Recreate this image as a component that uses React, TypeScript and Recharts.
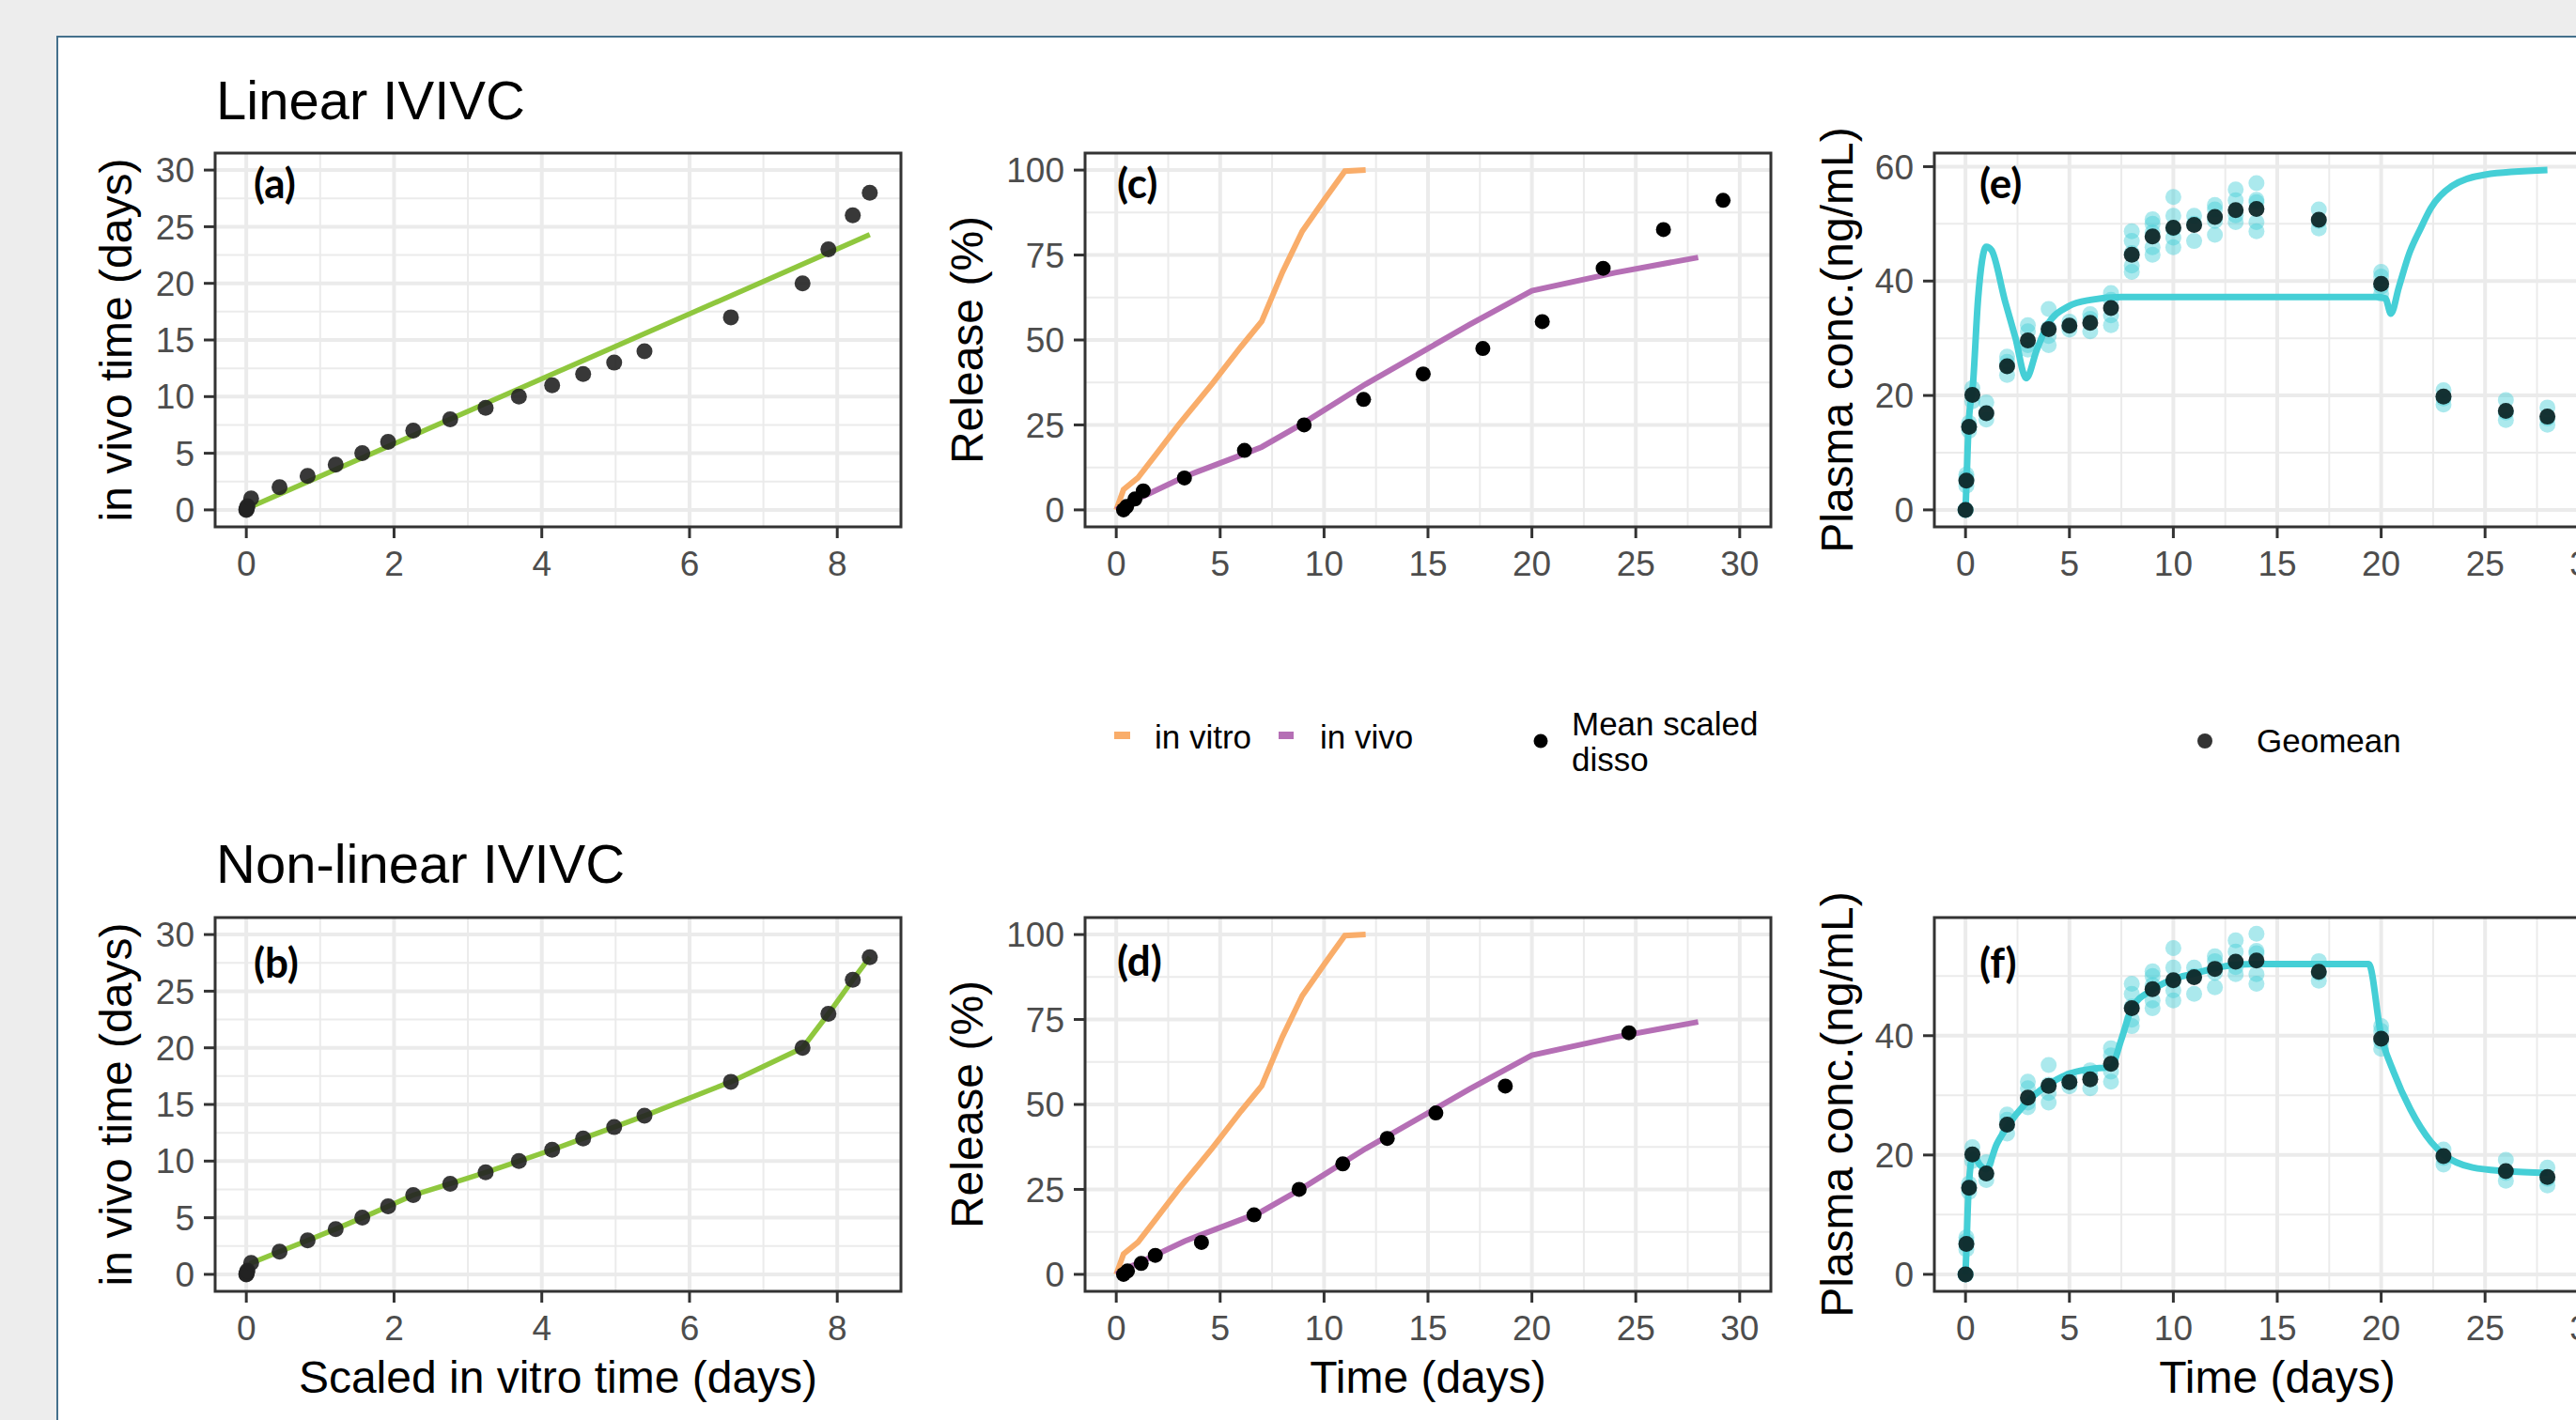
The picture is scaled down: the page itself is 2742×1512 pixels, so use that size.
import React from 'react';
import {
  ComposedChart, Line, Scatter, XAxis, YAxis, CartesianGrid, ReferenceArea,
} from 'recharts';

// ---- data ----

// in vivo sampling times (days) - y of panels a/b, x of panels e/f
const pkTimes = [0, 0.04, 0.17, 0.33, 1, 2, 3, 4, 5, 6, 7, 8, 9, 10, 11, 12, 13, 14, 17, 20, 23, 26, 28];
// scaled in vitro time matched to each in vivo time (panels a/b)
const scaledInVitro = [0, 0.002, 0.008, 0.015, 0.065, 0.45, 0.83, 1.21, 1.57, 1.92, 2.26, 2.76, 3.24, 3.69,
  4.14, 4.56, 4.98, 5.39, 6.56, 7.53, 7.88, 8.21, 8.44];
// linear IVIVC fit (a): end points
const linearFitX = [0, 8.44];
const linearFitY = [0.1, 24.3];

// in vitro release (orange)
const invitroTime = [0, 0.35, 1.05, 2.0, 3.0, 4.6, 6.0, 7.0, 8.0, 8.95, 10.0, 11.0, 12.0];
const invitroRelease = [0, 6.0, 9.5, 17.0, 25.0, 37.0, 48.0, 55.5, 70.0, 82.0, 91.2, 99.7, 100];
// in vivo release (purple)
const invivoTime = [0, 0.5, 1.3, 3.3, 6.3, 7.0, 9.0, 12.0, 15.0, 17.0, 20.0, 24.0, 28.0];
const invivoRelease = [0, 1.8, 4.0, 9.8, 16.8, 18.5, 25.5, 37.0, 47.5, 54.5, 64.5, 69.8, 74.3];
// mean scaled disso dots
const dissoRelease = [0, 1.0, 3.2, 5.6, 9.4, 17.5, 25.0, 32.5, 40.0, 47.5, 55.4, 71.1, 82.5, 91.1];
const dissoTimeLinear = [0.35, 0.5, 0.9, 1.3, 3.28, 6.17, 9.04, 11.9, 14.77, 17.64, 20.5, 23.43, 26.33, 29.2];
const dissoTimeNonlinear = [0.35, 0.54, 1.2, 1.88, 4.1, 6.63, 8.8, 10.9, 13.04, 15.38, 18.72, 24.67];

// plasma concentrations (ng/mL)
const geomeanConc = [0, 5.1, 14.5, 20.1, 16.9, 25.1, 29.6, 31.6, 32.2, 32.7, 35.3, 44.6, 47.8, 49.3, 49.8,
  51.2, 52.4, 52.6, 50.7, 39.5, 19.8, 17.3, 16.3];
const individualConc = [
  [0, 0, 0], [4.2, 5.0, 5.6, 6.2], [13.8, 14.5, 15.2], [19.0, 20.1, 21.3], [15.8, 16.9, 18.8],
  [23.6, 25.1, 25.9, 26.8], [28.0, 28.8, 31.2, 32.3], [28.8, 30.4, 31.8, 35.1], [31.5, 32.2, 32.9],
  [31.2, 33.4, 34.2], [32.3, 34.0, 36.7, 37.9], [41.6, 42.7, 44.9, 47.0, 48.7], [44.6, 45.9, 48.5, 50.0, 50.8],
  [45.9, 47.6, 49.2, 51.4, 54.7], [47.0, 50.0, 51.4], [48.1, 50.5, 52.5, 53.3], [50.3, 51.5, 54.1, 56.0],
  [48.7, 50.3, 53.8, 54.2, 57.1], [49.2, 50.5, 52.5], [37.8, 39.0, 40.8, 41.6], [18.4, 19.5, 20.9],
  [15.7, 17.0, 19.2], [14.9, 16.0, 17.9],
];
// predicted profiles
const predLinTime = [0, 0.05, 0.15, 0.36, 0.6, 1.0, 1.25, 1.9, 2.4, 2.92, 3.43, 3.94, 4.97, 6.0, 7.5, 9.6,
  19.8, 20.2, 20.47, 20.85, 21.36, 21.9, 22.4, 23.4, 25.0, 28.0];
const predLinConc = [0, 5, 15, 22, 36.7, 46, 45.4, 36.5, 30.1, 23, 28, 32.3, 35.6, 36.7, 37.2, 37.2,
  37.2, 37.0, 34.3, 38.9, 44.9, 49.2, 52.8, 56.6, 58.6, 59.4];
const predNonTime = [0, 0.05, 0.15, 0.36, 0.7, 1.0, 1.5, 2.0, 2.9, 3.94, 4.97, 6.0, 7.0, 7.5, 8.0, 9.0, 10.0,
  11.0, 12.0, 13.0, 14.0, 19.4, 20.0, 20.6, 21.4, 22.4, 23.0, 24.4, 26.0, 28.0];
const predNonConc = [0, 5, 14.5, 20, 18.3, 17.6, 21.8, 24.7, 28.7, 31.7, 33.6, 34.4, 34.8, 39.4, 44.6, 47.7,
  49.5, 50.4, 51.3, 51.9, 52.0, 52.0, 40.0, 33.9, 27.7, 22.2, 20.1, 17.9, 17.3, 17.0];

// axis ticks
const ivivcXTicks = [0, 2, 4, 6, 8];
const ivivcXMinor = [1, 3, 5, 7];
const ivivcYTicks = [0, 5, 10, 15, 20, 25, 30];
const ivivcYMinor = [2.5, 7.5, 12.5, 17.5, 22.5, 27.5];
const timeTicks = [0, 5, 10, 15, 20, 25, 30];
const timeMinor = [2.5, 7.5, 12.5, 17.5, 22.5, 27.5];
const releaseTicks = [0, 25, 50, 75, 100];
const releaseMinor = [12.5, 37.5, 62.5, 87.5];
const concTicksE = [0, 20, 40, 60];
const concTicksF = [0, 20, 40];
const concMinor = [10, 30, 50];

const zip = (xs: number[], ys: number[]) => xs.map((x, i) => ({ x, y: ys[i] }));

const ivivcPoints = zip(scaledInVitro, pkTimes);
const linearFit = zip(linearFitX, linearFitY);
const invitro = zip(invitroTime, invitroRelease);
const invivo = zip(invivoTime, invivoRelease);
const dissoLin = zip(dissoTimeLinear, dissoRelease);
const dissoNon = dissoTimeNonlinear.map((x, i) => ({ x, y: dissoRelease[i] }));
const geomean = zip(pkTimes, geomeanConc);
const individuals = individualConc.flatMap((vals, i) => vals.map((y) => ({ x: pkTimes[i], y })));
const predLin = zip(predLinTime, predLinConc);
const predNon = zip(predNonTime, predNonConc);

// ---- layout ----
const FONT = '"Liberation Sans", Arial, sans-serif';
const COL_X = [229, 1155, 2059];
const ROW_Y = [163, 977];
const PW = 730;
const PH = 398;
const YW = 140;
const XH = 80;
const PAD = 6;

const GREEN = '#8fc73e';
const ORANGE = '#f9ad6a';
const PURPLE = '#b56fb5';
const CYAN = '#45cfd6';

const tickStyle = { fill: '#4d4d4d', fontSize: 37, fontFamily: FONT };
const tickLine = { stroke: '#333333', strokeWidth: 3 };

const dot = (r: number, fill: string, opacity = 1) => (p: any) => (
  <circle cx={p.cx} cy={p.cy} r={r} fill={fill} fillOpacity={opacity} />
);

interface PanelProps {
  col: number;
  row: number;
  xDomain: [number, number];
  yDomain: [number, number];
  xTicks: number[];
  yTicks: number[];
  xMinor: number[];
  yMinor: number[];
  children: React.ReactNode;
}

function Panel({ col, row, xDomain, yDomain, xTicks, yTicks, xMinor, yMinor, children }: PanelProps) {
  return (
    <div style={{ position: 'absolute', left: COL_X[col] - YW, top: ROW_Y[row] - PAD }}>
      <ComposedChart
        width={YW + PW + PAD}
        height={PAD + PH + XH}
        margin={{ top: PAD, right: PAD, bottom: 0, left: 0 }}
      >
        <CartesianGrid stroke="#ebebeb" strokeWidth={2} horizontalValues={yMinor} verticalValues={xMinor} />
        <CartesianGrid stroke="#ebebeb" strokeWidth={4} horizontalValues={yTicks} verticalValues={xTicks} />
        <XAxis
          type="number" dataKey="x" domain={xDomain} allowDataOverflow ticks={xTicks} interval={0}
          height={XH} tickSize={12} tickMargin={14} tick={tickStyle} tickLine={tickLine} axisLine={false}
        />
        <YAxis
          type="number" dataKey="y" domain={yDomain} allowDataOverflow ticks={yTicks} interval={0}
          width={YW} tickSize={12} tickMargin={10} tick={tickStyle} tickLine={tickLine} axisLine={false}
        />
        {children}
        <ReferenceArea
          x1={xDomain[0]} x2={xDomain[1]} y1={yDomain[0]} y2={yDomain[1]}
          fill="none" stroke="#333333" strokeWidth={3} ifOverflow="visible"
        />
      </ComposedChart>
    </div>
  );
}

const IVIVC_X: [number, number] = [-0.422, 8.862];
const IVIVC_Y: [number, number] = [-1.5, 31.5];
const TIME_X: [number, number] = [-1.5, 31.5];
const REL_Y: [number, number] = [-5, 105];
const CONC_E: [number, number] = [-2.97, 62.37];
const CONC_F: [number, number] = [-2.85, 59.8];

function pkSeries(pred: { x: number; y: number }[]) {
  return [
    <Line key="l" data={pred} dataKey="y" type="monotone" stroke={CYAN} strokeWidth={7} dot={false}
      activeDot={false} isAnimationActive={false} />,
    <Scatter key="i" data={individuals} shape={dot(8.5, CYAN, 0.45)} isAnimationActive={false} />,
    <Scatter key="g" data={geomean} shape={dot(8.5, '#0e2728', 0.95)} isAnimationActive={false} />,
  ];
}

function releaseSeries(disso: { x: number; y: number }[]) {
  return [
    <Line key="v" data={invitro} dataKey="y" type="linear" stroke={ORANGE} strokeWidth={6} dot={false}
      activeDot={false} isAnimationActive={false} />,
    <Line key="p" data={invivo} dataKey="y" type="linear" stroke={PURPLE} strokeWidth={6} dot={false}
      activeDot={false} isAnimationActive={false} />,
    <Scatter key="d" data={disso} shape={dot(8, '#000000')} isAnimationActive={false} />,
  ];
}

export default function App() {
  const axisTitle = { fontFamily: FONT, fontSize: 48, fill: '#000' };
  const panelTag = { fontFamily: 'Lato, "Open Sans", sans-serif', fontWeight: 700, fontSize: 44, fill: '#000' };
  const legendText = { fontFamily: FONT, fontSize: 35, fill: '#000' };

  return (
    <div style={{ position: 'absolute', left: 0, top: 0, width: 2742, height: 1512, overflow: 'hidden', background: '#ededed' }}>
      <div style={{ position: 'absolute', left: 60, top: 38, width: 2800, height: 1600, background: '#fff', border: '2px solid #44708c' }} />

      {/* (a) linear IVIVC */}
      <Panel col={0} row={0} xDomain={IVIVC_X} yDomain={IVIVC_Y} xTicks={ivivcXTicks} yTicks={ivivcYTicks}
        xMinor={ivivcXMinor} yMinor={ivivcYMinor}>
        <Line data={linearFit} dataKey="y" type="linear" stroke={GREEN} strokeWidth={5.5} dot={false}
          activeDot={false} isAnimationActive={false} />
        <Scatter data={ivivcPoints} shape={dot(8.5, '#222222', 0.9)} isAnimationActive={false} />
      </Panel>
      {/* (b) non-linear IVIVC */}
      <Panel col={0} row={1} xDomain={IVIVC_X} yDomain={IVIVC_Y} xTicks={ivivcXTicks} yTicks={ivivcYTicks}
        xMinor={ivivcXMinor} yMinor={ivivcYMinor}>
        <Line data={ivivcPoints} dataKey="y" type="linear" stroke={GREEN} strokeWidth={5.5} dot={false}
          activeDot={false} isAnimationActive={false} />
        <Scatter data={ivivcPoints} shape={dot(8.5, '#222222', 0.9)} isAnimationActive={false} />
      </Panel>

      {/* (c), (d) release */}
      <Panel col={1} row={0} xDomain={TIME_X} yDomain={REL_Y} xTicks={timeTicks} yTicks={releaseTicks}
        xMinor={timeMinor} yMinor={releaseMinor}>
        {releaseSeries(dissoLin)}
      </Panel>
      <Panel col={1} row={1} xDomain={TIME_X} yDomain={REL_Y} xTicks={timeTicks} yTicks={releaseTicks}
        xMinor={timeMinor} yMinor={releaseMinor}>
        {releaseSeries(dissoNon)}
      </Panel>

      {/* (e), (f) plasma conc */}
      <Panel col={2} row={0} xDomain={TIME_X} yDomain={CONC_E} xTicks={timeTicks} yTicks={concTicksE}
        xMinor={timeMinor} yMinor={concMinor}>
        {pkSeries(predLin)}
      </Panel>
      <Panel col={2} row={1} xDomain={TIME_X} yDomain={CONC_F} xTicks={timeTicks} yTicks={concTicksF}
        xMinor={timeMinor} yMinor={concMinor}>
        {pkSeries(predNon)}
      </Panel>

      <svg width={2742} height={1512} style={{ position: 'absolute', left: 0, top: 0, pointerEvents: 'none' }}>
        <text x={230} y={127} fontFamily={FONT} fontSize={58}>Linear IVIVC</text>
        <text x={230} y={940} fontFamily={FONT} fontSize={58}>Non-linear IVIVC</text>

        <text transform="translate(140,362) rotate(-90)" textAnchor="middle" style={axisTitle}>in vivo time (days)</text>
        <text transform="translate(140,1176) rotate(-90)" textAnchor="middle" style={axisTitle}>in vivo time (days)</text>
        <text transform="translate(1046,362) rotate(-90)" textAnchor="middle" style={axisTitle}>Release (%)</text>
        <text transform="translate(1046,1176) rotate(-90)" textAnchor="middle" style={axisTitle}>Release (%)</text>
        <text transform="translate(1972,362) rotate(-90)" textAnchor="middle" style={axisTitle}>Plasma conc.(ng/mL)</text>
        <text transform="translate(1972,1176) rotate(-90)" textAnchor="middle" style={axisTitle}>Plasma conc.(ng/mL)</text>

        <text x={594} y={1483} textAnchor="middle" style={axisTitle}>Scaled in vitro time (days)</text>
        <text x={1520} y={1483} textAnchor="middle" style={axisTitle}>Time (days)</text>
        <text x={2424} y={1483} textAnchor="middle" style={axisTitle}>Time (days)</text>

        <text x={270} y={211} style={panelTag}>(a)</text>
        <text x={270} y={1041} style={panelTag}>(b)</text>
        <text x={1189} y={211} style={panelTag}>(c)</text>
        <text x={1189} y={1039} style={panelTag}>(d)</text>
        <text x={2107} y={211} style={panelTag}>(e)</text>
        <text x={2107} y={1041} style={panelTag}>(f)</text>

        {/* legends */}
        <rect x={1186} y={779} width={17} height={8} fill={ORANGE} />
        <text x={1229} y={797} style={legendText}>in vitro</text>
        <rect x={1361} y={779} width={16} height={8} fill={PURPLE} />
        <text x={1405} y={797} style={legendText}>in vivo</text>
        <circle cx={1640} cy={789} r={7.5} fill="#000" />
        <text x={1673} y={783} style={legendText}>Mean scaled</text>
        <text x={1673} y={821} style={legendText}>disso</text>
        <circle cx={2347} cy={789} r={8} fill="#333" />
        <text x={2402} y={801} style={legendText}>Geomean</text>
      </svg>
    </div>
  );
}
